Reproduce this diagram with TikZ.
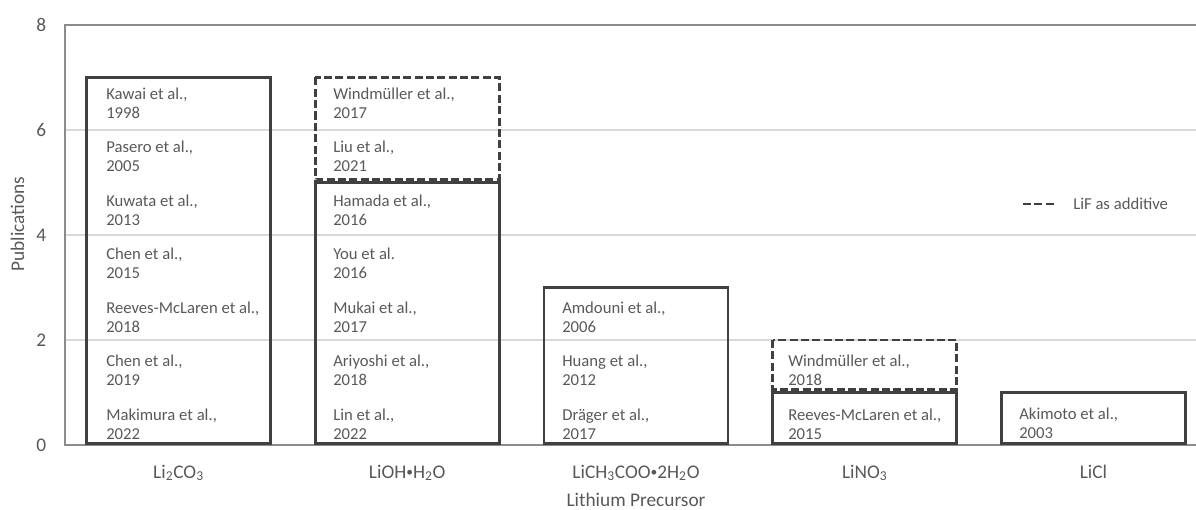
\documentclass[tikz,border=0pt]{standalone}
\usepackage{fontspec}
\setmainfont{Carlito}
\usepackage{xcolor}
\usepackage{graphicx}
\definecolor{txtgray}{HTML}{595959}
\definecolor{bargray}{HTML}{404040}
\definecolor{framegray}{HTML}{8C8C8C}
\definecolor{gridgray}{HTML}{D9D9D9}
\newcommand{\dotsep}{\raisebox{0.15ex}{\scalebox{0.7}{•}}}

\begin{document}
\begin{tikzpicture}[
    x=0.75pt, y=-0.75pt,
    bar/.style={draw=bargray, line width=2pt},
    addbar/.style={draw=bargray, line width=2pt, dash pattern=on 6pt off 2.5pt},
    entry/.style={anchor=west, align=left, inner sep=0pt, text=txtgray, font=\fontsize{12.5}{14.3}\selectfont},
    ticklabel/.style={anchor=east, inner sep=0pt, text=txtgray, font=\fontsize{14.5}{16}\selectfont},
    catlabel/.style={anchor=base, inner sep=0pt, text=txtgray, font=\fontsize{14.5}{16}\selectfont}
]
    \useasboundingbox (0,0) rectangle (1196,510);

    % grid and frame
    \foreach \v in {2,4,6}
        \draw [gridgray, line width=0.8pt] (65,{445-52.5*\v}) -- (1196,{445-52.5*\v});
    \draw [framegray, line width=1.2pt] (1196,25) -- (65,25) -- (65,445) -- (1196,445);
    \foreach \v in {0,2,...,8}
        \node [ticklabel] (tick\v) at (46.5,{445-52.5*\v}) {\v};

    % bars
    \draw [bar] (86.5,77.5) rectangle (270.5,443.5);
    \draw [addbar] (315.25,77.5) rectangle (499.25,179.5);
    \draw [bar] (315.25,182.5) rectangle (499.25,443.5);
    \draw [bar] (544,287.5) rectangle (728,443.5);
    \draw [addbar] (772.75,340) rectangle (956.75,389.5);
    \draw [bar] (772.75,392.5) rectangle (956.75,443.5);
    \draw [bar] (1001.5,392.5) rectangle (1185.5,443.5);

    % Li2CO3
    \node [entry] (a6) at (106,{424-53.5*6}) {Kawai et al.,\\1998};
    \node [entry] (a5) at (106,{424-53.5*5}) {Pasero et al.,\\2005};
    \node [entry] (a4) at (106,{424-53.5*4}) {Kuwata et al.,\\2013};
    \node [entry] (a3) at (106,{424-53.5*3}) {Chen et al.,\\2015};
    \node [entry] (a2) at (106,{424-53.5*2}) {Reeves-McLaren et al.,\\2018};
    \node [entry] (a1) at (106,{424-53.5*1}) {Chen et al.,\\2019};
    \node [entry] (a0) at (106,424) {Makimura et al.,\\2022};

    % LiOH.H2O
    \node [entry] (b6) at (333,{424-53.5*6}) {Windmüller et al.,\\2017};
    \node [entry] (b5) at (333,{424-53.5*5}) {Liu et al.,\\2021};
    \node [entry] (b4) at (333,{424-53.5*4}) {Hamada et al.,\\2016};
    \node [entry] (b3) at (333,{424-53.5*3}) {You et al.\\2016};
    \node [entry] (b2) at (333,{424-53.5*2}) {Mukai et al.,\\2017};
    \node [entry] (b1) at (333,{424-53.5*1}) {Ariyoshi et al.,\\2018};
    \node [entry] (b0) at (333,424) {Lin et al.,\\2022};

    % LiCH3COO.2H2O
    \node [entry] (c2) at (562,{424-53.5*2}) {Amdouni et al.,\\2006};
    \node [entry] (c1) at (562,{424-53.5*1}) {Huang et al.,\\2012};
    \node [entry] (c0) at (562,424) {Dräger et al.,\\2017};

    % LiNO3
    \node [entry] (d1) at (788,{424-53.5*1}) {Windmüller et al.,\\2018};
    \node [entry] (d0) at (788,424) {Reeves-McLaren et al.,\\2015};

    % LiCl
    \node [entry] (e0) at (1019,423) {Akimoto et al.,\\2003};

    % axes labels
    \node [catlabel] (cat1) at (178.5,478) {Li\textsubscript{2}CO\textsubscript{3}};
    \node [catlabel] (cat2) at (407.25,478) {LiOH\dotsep H\textsubscript{2}O};
    \node [catlabel] (cat3) at (636,478) {LiCH\textsubscript{3}COO\dotsep 2H\textsubscript{2}O};
    \node [catlabel] (cat4) at (864.75,478) {LiNO\textsubscript{3}};
    \node [catlabel] (cat5) at (1093.5,478) {LiCl};
    \node [catlabel] (xtitle) at (636,506) {Lithium Precursor};
    \node [catlabel, anchor=center, rotate=90] (ytitle) at (17.5,224) {Publications};

    % legend
    \coordinate (legA) at (1023,204);
    \coordinate (legB) at (1054,204);
    \draw [bargray, line width=2pt, dash pattern=on 6pt off 2.6pt] (legA) -- (legB);
    \node [entry] (legtext) at (1073,204) {LiF as additive};
\end{tikzpicture}
\end{document}
